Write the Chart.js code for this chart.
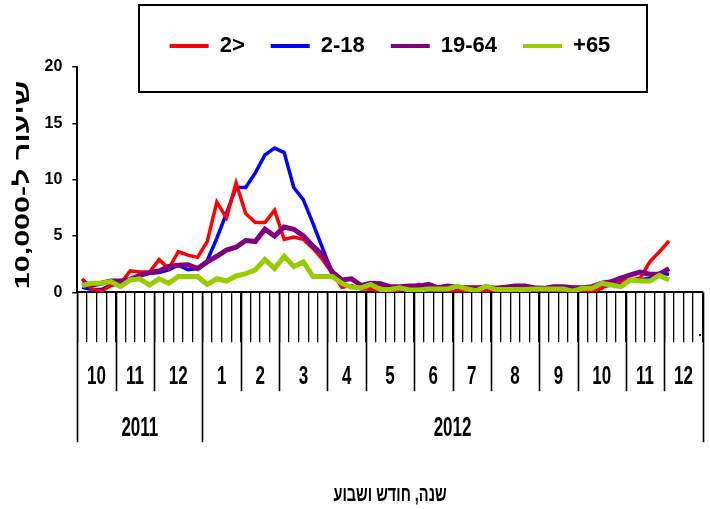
<!DOCTYPE html>
<html><head><meta charset="utf-8">
<script src="https://cdn.jsdelivr.net/npm/chart.js@4.4.1/dist/chart.umd.min.js"></script>
<style>html,body{margin:0;padding:0;background:#fff;} #wrap{width:710px;height:509px;position:relative;}</style>
</head><body><div id="wrap"><canvas id="c"></canvas></div>
<script>
const monthLabels = ['10','11','12','1','2','3','4','5','6','7','8','9','10','11','12'];
const weeksPerMonth = [4,4,5,4,4,5,4,5,4,4,5,4,5,4,4];
const yearLabels = ['2011','2012'];
const monthsPerYear = [3,12];
const seriesNames = ['2>','2-18','19-64','+65'];
const seriesColors = ['#FF0000','#0000FF','#800080','#99CC00'];
const under2 = [1.2,0.3,0.1,0.6,0.8,1.9,1.8,1.8,2.9,2.1,
 3.6,3.3,3.1,4.5,8.0,6.6,9.7,7.0,6.2,6.2,
 7.3,4.7,4.9,4.7,3.9,2.9,1.7,0.45,0.6,0.3,
 0.3,0.1,0.1,0.2,0.4,0.7,0.3,0.2,0.2,0.15,
 0.1,0.1,0.15,0.1,0.1,0.15,0.2,0.2,0.2,0.2,
 0.15,0.1,0.1,0.05,0.35,1.0,0.95,1.1,1.25,2.7,
 3.6,4.55];
const age2to18 = [0.45,0.25,0.25,0.65,0.8,1.15,1.5,1.7,1.75,2.0,
 2.4,2.0,2.1,2.8,4.8,7.0,9.3,9.3,10.6,12.2,
 12.8,12.4,9.3,8.2,6.1,3.9,1.7,0.8,0.5,0.4,
 0.3,0.2,0.2,0.15,0.1,0.1,0.1,0.1,0.1,0.1,
 0.1,0.1,0.1,0.1,0.1,0.1,0.1,0.1,0.15,0.15,
 0.15,0.15,0.15,0.2,0.5,0.65,0.8,1.1,1.1,1.25,
 1.7,1.6];
const age19to64 = [0.8,0.65,0.8,1.0,1.0,1.15,1.5,1.75,1.9,2.3,
 2.4,2.45,2.1,2.7,3.2,3.75,4.0,4.6,4.5,5.6,
 5.0,5.8,5.6,5.0,4.1,3.3,1.8,1.1,1.2,0.6,
 0.8,0.75,0.5,0.5,0.55,0.55,0.7,0.4,0.55,0.45,
 0.4,0.4,0.45,0.35,0.45,0.55,0.55,0.4,0.35,0.5,
 0.5,0.4,0.4,0.5,0.8,0.95,1.25,1.55,1.8,1.6,
 1.6,2.1];
const age65plus = [0.6,0.8,0.8,0.95,0.5,1.1,1.2,0.65,1.2,0.8,
 1.4,1.4,1.4,0.7,1.2,1.0,1.45,1.65,2.0,2.9,
 2.1,3.2,2.3,2.7,1.4,1.4,1.4,0.8,0.45,0.4,
 0.7,0.25,0.25,0.4,0.2,0.2,0.3,0.3,0.3,0.55,
 0.3,0.15,0.55,0.25,0.25,0.25,0.25,0.3,0.3,0.3,
 0.3,0.1,0.35,0.35,0.8,0.65,0.5,1.1,1.0,1.0,
 1.5,1.1];
const yTicks = [0,5,10,15,20];
const yTitle = 'שיעור ל-10,000';
const xTitle = 'שנה, חודש ושבוע';

// week category labels built from month table
const weekLabels = [];
monthLabels.forEach((m, mi) => { for (let k = 0; k < weeksPerMonth[mi]; k++) weekLabels.push(m + '/' + (k + 1)); });

const FONT = '"Liberation Sans", Arial, sans-serif';
Chart.defaults.font.family = FONT;
Chart.defaults.color = '#000';

function stretchedText(ctx, text, x, y, sy) {
  ctx.save(); ctx.translate(x, y); ctx.scale(1, sy); ctx.fillText(text, 0, 0); ctx.restore();
}

const decor = {
  id: 'decor',
  afterDraw(chart) {
    const ctx = chart.ctx, xs = chart.scales.x, area = chart.chartArea;
    const w = xs.getPixelForValue(1) - xs.getPixelForValue(0);
    const edge = i => xs.getPixelForValue(i) - w / 2;
    const y0 = area.bottom;
    const monthStart = []; let idx = 0;
    weeksPerMonth.forEach(n => { monthStart.push(idx); idx += n; });
    monthStart.push(idx);
    const yearStart = []; let mi = 0;
    monthsPerYear.forEach(n => { yearStart.push(mi); mi += n; });
    yearStart.push(mi);
    ctx.save();
    ctx.strokeStyle = '#000'; ctx.fillStyle = '#000';
    ctx.lineWidth = 1.6;
    ctx.beginPath();
    monthStart.forEach((ws, m) => {
      const px = Math.round(edge(ws)) + 0.5;
      const isYear = yearStart.includes(m);
      ctx.moveTo(px, y0); ctx.lineTo(px, y0 + (isYear ? 150 : 99));
    });
    ctx.stroke();
    ctx.textAlign = 'center'; ctx.textBaseline = 'middle';
    ctx.font = 'bold 17px ' + FONT;
    monthLabels.forEach((lab, m) => {
      const cx = (edge(monthStart[m]) + edge(monthStart[m + 1])) / 2;
      stretchedText(ctx, lab, cx, y0 + 85, 1.5);
    });
    yearLabels.forEach((lab, yi) => {
      const cx = (edge(monthStart[yearStart[yi]]) + edge(monthStart[yearStart[yi + 1]])) / 2;
      stretchedText(ctx, lab, cx, y0 + 136, 1.6);
    });
    // x title
    ctx.font = 'bold 14.5px ' + FONT;
    stretchedText(ctx, xTitle, (area.left + area.right) / 2, 495, 1.5);
    // y title
    ctx.save();
    ctx.translate(23, 185); ctx.rotate(-Math.PI / 2); ctx.scale(1.45, 1);
    ctx.font = 'bold 21px ' + FONT;
    ctx.fillText(yTitle, 0, 0);
    ctx.restore();
    // stray dot
    ctx.font = 'bold 13px ' + FONT;
    ctx.fillText('.', 700, 332);
    // legend frame
    ctx.lineWidth = 2;
    ctx.strokeRect(139, 5, 508, 87);
    ctx.restore();
  }
};

const data = [under2, age2to18, age19to64, age65plus];
const widths = [3.5, 3.5, 5, 5];
const orders = [2, 3, 1, 0];

new Chart(document.getElementById('c'), {
  type: 'line',
  data: {
    labels: weekLabels,
    datasets: seriesNames.map((n, i) => ({
      label: n, data: data[i], borderColor: seriesColors[i], backgroundColor: seriesColors[i],
      borderWidth: widths[i], pointRadius: 0, tension: 0, fill: false, order: orders[i]
    }))
  },
  options: {
    responsive: true, maintainAspectRatio: false, animation: false,
    layout: { padding: { top: 9, left: 0, right: 7.3, bottom: 0 } },
    plugins: {
      tooltip: { enabled: false },
      legend: {
        position: 'top', fullSize: false,
        labels: {
          boxWidth: 39, boxHeight: 4, padding: 26,
          font: { family: FONT, size: 22, weight: 'bold' },
          color: '#000',
          sort: (a, b) => a.datasetIndex - b.datasetIndex,
          generateLabels: (chart) => chart.data.datasets.map((ds, i) => ({
            text: ds.label, fillStyle: ds.borderColor, strokeStyle: ds.borderColor, lineWidth: 0,
            hidden: false, datasetIndex: i
          }))
        }
      }
    },
    scales: {
      x: {
        offset: true,
        ticks: { display: false, autoSkip: false },
        grid: { display: true, drawOnChartArea: false, drawTicks: true, tickLength: 50, color: '#000', lineWidth: 1.3, offset: true },
        border: { display: true, color: '#000', width: 2 },
        afterFit: s => { s.height = 216.7; }
      },
      y: {
        min: yTicks[0], max: yTicks[yTicks.length - 1],
        ticks: { stepSize: yTicks[1] - yTicks[0], padding: 10, font: { size: 16, weight: 'bold' }, color: '#000' },
        grid: { drawOnChartArea: false, drawTicks: true, tickLength: 5, color: '#000', lineWidth: 1.5 },
        border: { display: true, color: '#000', width: 2 },
        afterFit: s => { s.width = 77.3; }
      }
    }
  },
  plugins: [decor]
});
</script></body></html>
